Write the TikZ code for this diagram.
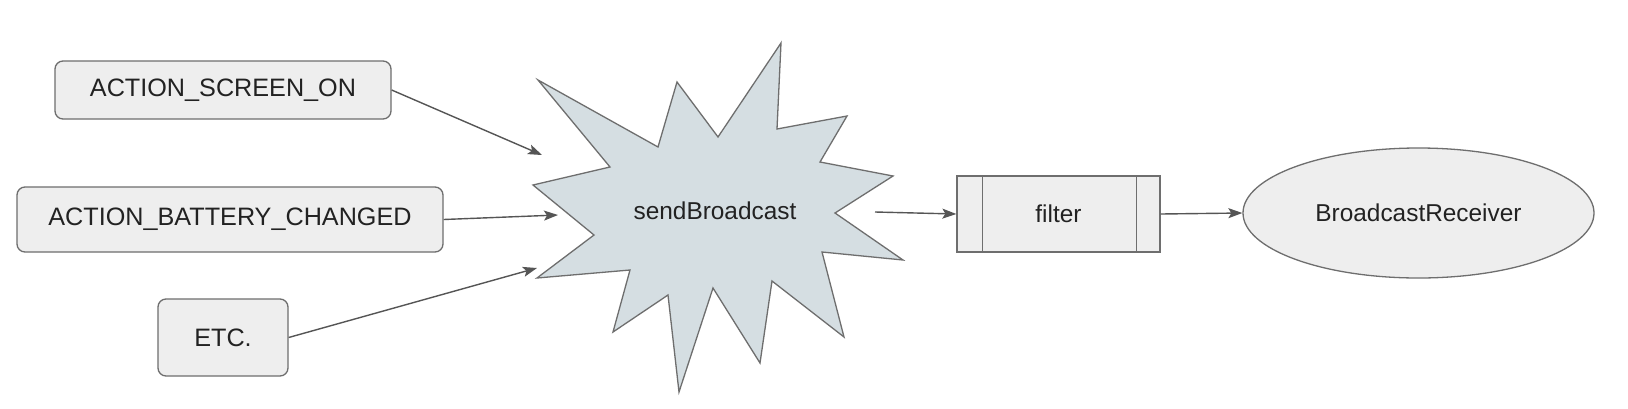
\documentclass[tikz,border=0pt]{standalone}
\usepackage{fontspec}
\setmainfont{Liberation Sans}
\usetikzlibrary{arrows.meta,shapes.geometric}
\definecolor{linec}{HTML}{6E6E6E}
\definecolor{boxf}{HTML}{EEEEEE}
\definecolor{starf}{HTML}{D5DEE2}
\definecolor{arrc}{HTML}{555555}
\definecolor{txt}{HTML}{222222}
\begin{document}
\begin{tikzpicture}[x=1pt,y=-1pt,
 box/.style={draw=linec, fill=boxf, rounded corners=8pt, line width=1.3pt, inner sep=0pt, font=\fontsize{25.2}{30}\selectfont, text=txt},
 conn/.style={draw=arrc, line width=1.4pt, -{Stealth[length=14pt,width=10pt,inset=3pt]}},
 lbl/.style={font=\fontsize{24.4}{28}\selectfont, text=txt, inner sep=0pt},
]
\useasboundingbox[fill=white] (0,0) rectangle (1628,408);
% source boxes
\node[box, minimum width=336pt, minimum height=58pt] (son) at (223,90) {ACTION\_SCREEN\_ON};
\node[box, minimum width=426pt, minimum height=65pt] (bat) at (230,219.5) {ACTION\_BATTERY\_CHANGED};
\node[box, minimum width=130pt, minimum height=77pt] (etc) at (223,337.5) {ETC.};
% star
\draw[draw=linec, fill=starf, line width=1.3pt, line join=miter]
 (538,80) -- (658,147) -- (677,82) -- (718,137) -- (781,43) -- (777,129)
 -- (847,116) -- (820,162) -- (893,176) -- (835,213) -- (903,260) -- (822,252)
 -- (844,337) -- (772,281) -- (760,363) -- (713,288) -- (679,392) -- (668,295)
 -- (613,332) -- (630,270) -- (537,278) -- (594,235) -- (533,185) -- (610,167) -- cycle;
\node[lbl] (sb) at (715,211) {sendBroadcast};
\coordinate (in1) at (542,155);
\coordinate (in2) at (558,215);
\coordinate (in3) at (537,268);
\coordinate (out) at (875,212);
% filter
\node[draw=linec, fill=boxf, line width=1.3pt, minimum width=203pt, minimum height=76pt, inner sep=0pt] (filter) at (1058.5,214) {};
\draw[linec, line width=1.3pt] ([xshift=26pt]filter.north west) -- ([xshift=26pt]filter.south west);
\draw[linec, line width=1.3pt] ([xshift=-24pt]filter.north east) -- ([xshift=-24pt]filter.south east);
\node[lbl] (ft) at (filter.center) {filter};
% receiver
\node[ellipse, draw=linec, fill=boxf, line width=1.3pt, minimum width=351pt, minimum height=130pt, inner sep=0pt] (rec) at (1418.5,213) {};
\node[lbl] (rt) at (rec.center) {BroadcastReceiver};
% connectors
\draw[conn] (son.east) -- (in1);
\draw[conn] (bat.east) -- (in2);
\draw[conn] (etc.east) -- (in3);
\draw[conn] (out) -- (filter.west);
\draw[conn] (filter.east) -- (rec.west);
\end{tikzpicture}
\end{document}
